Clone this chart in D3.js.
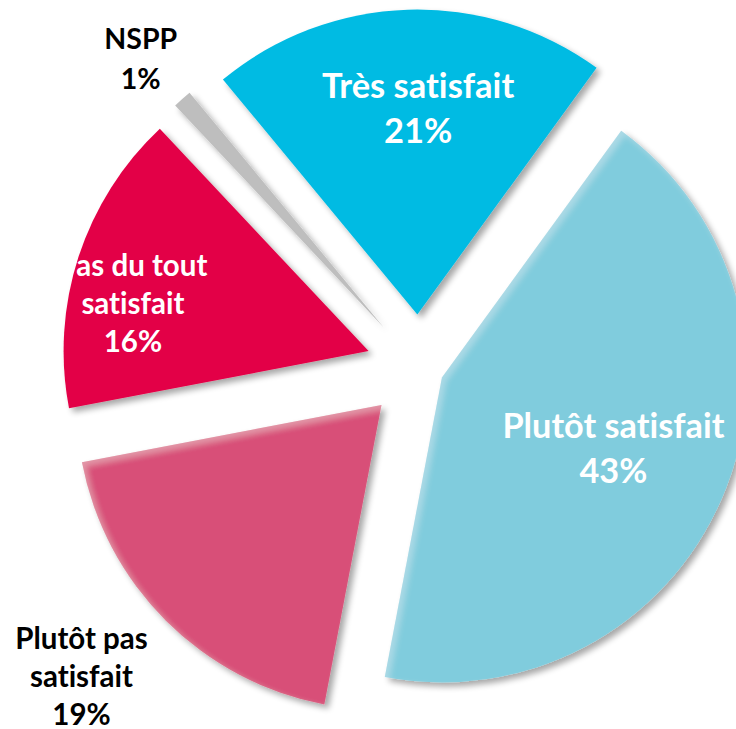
<!DOCTYPE html>
<html>

<head>
    <meta http-equiv="Content-Type" content="text/html; charset=UTF-8">
    <style>
        body { margin: 0; background: #fff; }
        svg { display: block; }
        text { font-family: Lato, "Open Sans", sans-serif; font-weight: bold; font-variant-ligatures: none; font-feature-settings: "liga" 0, "clig" 0; }
    </style>
</head>

<body>
    <svg></svg>
    <script src="https://cdn.jsdelivr.net/npm/d3@7"></script>

    <script>

        let width = 736, height = 729;

        // Chart values
        const categories = ["Très satisfait", "Plutôt satisfait", "Plutôt pas satisfait", "Pas du tout satisfait", "NSPP"];
        const values = [21, 43, 19, 16, 1];
        // how each category label is broken into lines
        const labelLines = [["Très satisfait"], ["Plutôt satisfait"], ["Plutôt pas", "satisfait"], ["Pas du tout", "satisfait"], ["NSPP"]];

        const colors = ["#00BBE3", "#80CCDD", "#D85078", "#E30046", "#BEBEBE"];

        // layout of the exploded pie
        const cx = 419, cy = 367.5, radius = 305;
        const explode = { "Plutôt satisfait": 25 };
        const defaultExplode = 53;
        // label anchor in polar form (deg, px from pie centre), font size, line spacing, colour
        const labelStyle = {
            "Très satisfait": { a: -0.2, r: 247, size: 34.5, lh: 45, fill: "#fff" },
            "Plutôt satisfait": { a: 115.6, r: 215.6, size: 34.3, lh: 45, fill: "#fff" },
            "Plutôt pas satisfait": { a: 226.6, r: 464.5, size: 29.5, lh: 38, fill: "#000" },
            "Pas du tout satisfait": { a: 280.6, r: 291, size: 29.5, lh: 38, fill: "#fff" },
            "NSPP": { a: 317, r: 408, size: 28.5, lh: 40, fill: "#000" }
        };

        let svg = d3.select("svg")
            .attr("width", width)
            .attr("height", height)
            .attr("viewBox", "0 0 " + width + " " + height);

        let defs = svg.append("defs");

        // soft drop shadow to the lower right
        let shadow = defs.append("filter").attr("id", "shadow")
            .attr("x", "-20%").attr("y", "-20%").attr("width", "140%").attr("height", "140%");
        shadow.append("feGaussianBlur").attr("in", "SourceAlpha").attr("stdDeviation", 3).attr("result", "blur");
        shadow.append("feOffset").attr("in", "blur").attr("dx", 4).attr("dy", 4).attr("result", "off");
        shadow.append("feComponentTransfer").attr("in", "off").attr("result", "sh")
            .append("feFuncA").attr("type", "linear").attr("slope", 0.35);
        let m1 = shadow.append("feMerge");
        m1.append("feMergeNode").attr("in", "sh");
        m1.append("feMergeNode").attr("in", "SourceGraphic");

        // same shadow plus a light bevel on the upper-left edges
        let bevel = defs.append("filter").attr("id", "bevel")
            .attr("x", "-20%").attr("y", "-20%").attr("width", "140%").attr("height", "140%");
        bevel.append("feGaussianBlur").attr("in", "SourceAlpha").attr("stdDeviation", 3).attr("result", "blur");
        bevel.append("feOffset").attr("in", "blur").attr("dx", 4).attr("dy", 4).attr("result", "off");
        bevel.append("feComponentTransfer").attr("in", "off").attr("result", "sh")
            .append("feFuncA").attr("type", "linear").attr("slope", 0.35);
        bevel.append("feComposite").attr("in", "SourceAlpha").attr("in2", "off")
            .attr("operator", "out").attr("result", "edge");
        bevel.append("feFlood").attr("flood-color", "#fff").attr("flood-opacity", 0.25).attr("result", "white");
        bevel.append("feComposite").attr("in", "white").attr("in2", "edge").attr("operator", "in").attr("result", "hl");
        let m2 = bevel.append("feMerge");
        m2.append("feMergeNode").attr("in", "sh");
        m2.append("feMergeNode").attr("in", "SourceGraphic");
        m2.append("feMergeNode").attr("in", "hl");

        let data = categories.map((c, i) => ({ category: c, value: values[i], color: colors[i], lines: labelLines[i] }));

        let pie = d3.pie()
            .sort(null)
            .startAngle(-39.6 * Math.PI / 180)
            .endAngle((360 - 39.6) * Math.PI / 180)
            .value(d => d.value);

        let arc = d3.arc()
            .innerRadius(0)
            .outerRadius(radius);

        let arcs = pie(data);

        let slices = svg.append("g")
            .attr("id", "slices")
            .attr("transform", "translate(" + cx + "," + cy + ")")
            .selectAll("path")
            .data(arcs)
            .enter()
            .append("path")
            .attr("d", arc)
            .attr("fill", d => d.data.color)
            .attr("filter", d => (d.data.category == "Plutôt satisfait" || d.data.category == "Plutôt pas satisfait") ? "url(#bevel)" : "url(#shadow)")
            .attr("transform", d => {
                let mid = (d.startAngle + d.endAngle) / 2;
                let off = explode[d.data.category] !== undefined ? explode[d.data.category] : defaultExplode;
                return "translate(" + (Math.sin(mid) * off) + "," + (-Math.cos(mid) * off) + ")";
            });

        // labels
        let labels = svg.append("g")
            .attr("id", "labels")
            .selectAll("text")
            .data(arcs)
            .enter()
            .append("text")
            .attr("text-anchor", "middle")
            .each(function (d) {
                let s = labelStyle[d.data.category];
                let a = s.a * Math.PI / 180;
                let x = cx + Math.sin(a) * s.r;
                let y = cy - Math.cos(a) * s.r;
                let lines = d.data.lines.concat([d.data.value + "%"]);
                let t = d3.select(this)
                    .style("font-size", s.size + "px")
                    .attr("fill", s.fill);
                lines.forEach((l, i) => {
                    t.append("tspan")
                        .attr("x", x)
                        .attr("y", y + (i - (lines.length - 1) / 2) * s.lh)
                        .text(l);
                });
            });

    </script>

</body>

</html>
